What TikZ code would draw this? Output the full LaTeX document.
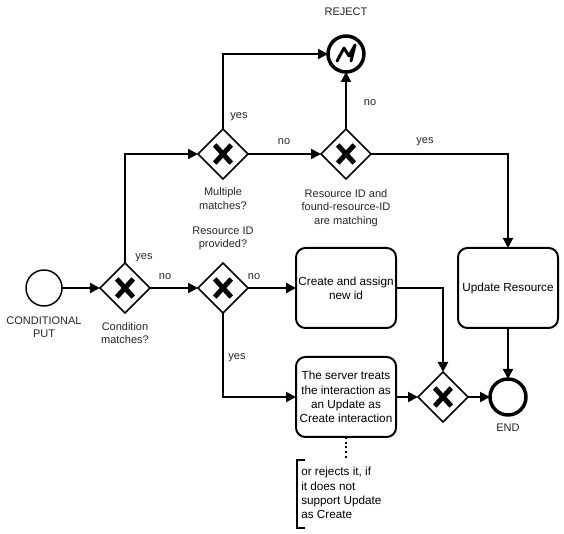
\documentclass[tikz,border=0pt]{standalone}
\usepackage{fontspec}
\setmainfont{Liberation Sans}
\usetikzlibrary{arrows.meta,shapes.geometric,calc}
\tikzset{
  line/.style={line width=1.5pt,-{Triangle[length=7.5pt,width=7.5pt]}},
  lab/.style={font=\fontsize{8.25}{9.9}\selectfont,align=center,inner sep=0pt,text=black!85},
  gate/.style={diamond,draw,line width=1.1pt,minimum width=37.5pt,minimum height=37.5pt,inner sep=0pt,outer sep=0pt,
    path picture={\draw[line width=3.7pt] ($(path picture bounding box.center)+(-6.2pt,6.8pt)$)--($(path picture bounding box.center)+(6.2pt,-6.8pt)$)
      ($(path picture bounding box.center)+(-6.2pt,-6.8pt)$)--($(path picture bounding box.center)+(6.2pt,6.8pt)$);}},
  task/.style={draw,rounded corners=7pt,line width=1.5pt,minimum width=75pt,minimum height=60pt,inner sep=0pt,outer sep=0pt,align=center,font=\fontsize{8.8}{10.7}\selectfont},
  startev/.style={circle,draw,line width=1.1pt,minimum size=27pt,inner sep=0pt,outer sep=0pt},
  endev/.style={circle,draw,line width=2.6pt,minimum size=27pt,inner sep=0pt,outer sep=0pt},
}
\begin{document}
\begin{tikzpicture}[x=0.75pt,y=-0.75pt]
\useasboundingbox (0,0) rectangle (564,534);
\node[startev] (start) at (44,288) {};
\node[gate] (g1) at (125,288) {};
\node[gate] (g2) at (223,288) {};
\node[gate] (g3) at (223,154) {};
\node[gate] (g4) at (346,154) {};
\node[gate] (g5) at (443,397) {};
\node[endev] (reject) at (346,54) {};
\node[endev] (end) at (508,397) {};
\node[task] (t1) at (346,288) {Create and assign\\new id};
\node[task] (t2) at (346,397) {The server treats\\the interaction as\\an Update as\\Create interaction};
\node[task] (t3) at (508,288) {Update Resource};
\coordinate (ann) at (346,460);
\draw[line width=2.2pt,line join=round,line cap=round] (337,61) -- (344,48) -- (349,56) -- (355,45) -- (351,61);
\draw[line] (start) -- (g1);
\draw[line] (g1) -- (g2);
\draw[line] (g2) -- (t1);
\draw[line] (g2.south) |- (t2.west);
\draw[line] (g1.north) |- (g3.west);
\draw[line] (g3.north) |- (reject.west);
\draw[line] (g3) -- (g4);
\draw[line] (g4) -- (reject);
\draw[line] (g4.east) -| (t3.north);
\draw[line] (t1.east) -| (g5.north);
\draw[line] (t2) -- (g5);
\draw[line] (g5) -- (end);
\draw[line] (t3) -- (end);
\draw[line width=1.5pt,dotted] (t2.south) -- (ann);
\draw[line width=1.3pt] (305,460) -- (297,460) -- (297,528) -- (305,528);
\node[lab] (lreject) at (346,12) {REJECT};
\node[lab] (lstart) at (44,327) {CONDITIONAL\\PUT};
\node[lab] (lcond) at (125,333) {Condition\\matches?};
\node[lab] (lmult) at (223,198.5) {Multiple\\matches?};
\node[lab] (lprov) at (223,238) {Resource ID\\provided?};
\node[lab] (lmatch) at (346,208) {Resource ID and\\found-resource-ID\\are matching};
\node[lab] (lend) at (508,428) {END};
\node[lab] at (239,117) {yes};
\node[lab] at (284,142) {no};
\node[lab] at (370,103) {no};
\node[lab] at (425,142) {yes};
\node[lab] at (144,258) {yes};
\node[lab] at (165,277) {no};
\node[lab] at (254,277) {no};
\node[lab] at (237,358) {yes};
\node[font=\fontsize{8.8}{10.7}\selectfont,align=left,inner sep=0pt,anchor=north west] (note) at (301,467) {or rejects it, if\\it does not\\support Update\\as Create};
\end{tikzpicture}
\end{document}
